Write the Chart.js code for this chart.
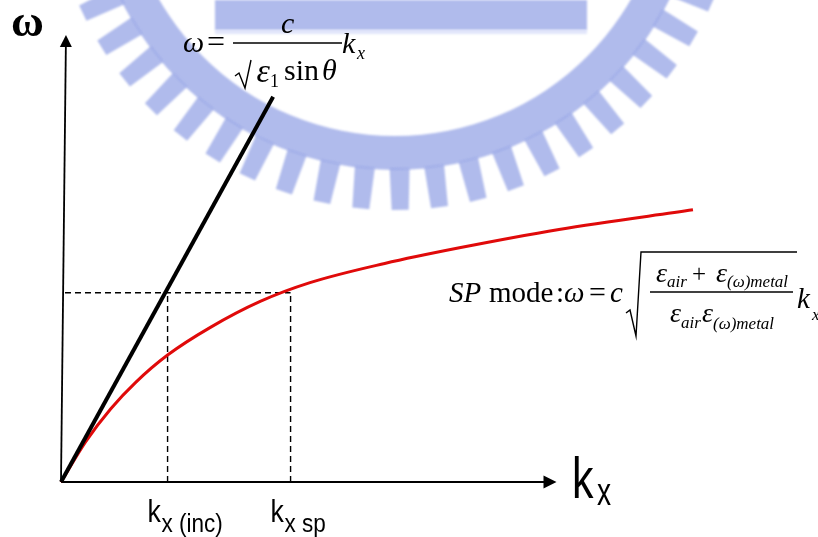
<!DOCTYPE html>
<html>
<head>
<meta charset="utf-8">
<script src="https://cdn.jsdelivr.net/npm/chart.js@4"></script>
<style>
  html, body { margin: 0; padding: 0; background: #fff; }
  canvas { display: block; }
</style>
</head>
<body>
<canvas id="chart" width="818" height="537"></canvas>
<script>
// surface plasmon branch (red) against the light line (black)
const spK = [0, 0.5, 1, 1.5, 2.14, 3, 4, 5, 6.5, 8, 10, 12.69];
const spOmega = [0, 0.91, 1.64, 2.23, 2.84, 3.46, 4.04, 4.46, 4.89, 5.24, 5.65, 6.09];
const lightK = [0, 4.26];
const lightOmega = [0, 8.62];

// where the two curves reach the same frequency
const kInc = 2.14;
const kSp = 4.61;
const omegaMatch = 4.235;

const tickLabels = [
  { at: kInc, main: "k", sub: "x (inc)" },
  { at: kSp, main: "k", sub: "x sp" }
];
const axisEnd = { k: 9.95, omega: 10 };

const toPts = (xs, ys) => xs.map((x, i) => ({ x: x, y: ys[i] }));

const serif = '"Liberation Serif", "Times New Roman", serif';
const sans = '"Liberation Sans", Arial, sans-serif';

function txt(ctx, s, x, y, font) {
  ctx.font = font;
  ctx.fillText(s, x, y);
}

// draws s so that its right edge lands on x
function txtR(ctx, s, x, y, font) {
  ctx.font = font;
  ctx.fillText(s, x - ctx.measureText(s).width, y);
}

function narrow(ctx, s, x, y, font, sx) {
  ctx.save();
  ctx.translate(x, y);
  ctx.scale(sx, 1);
  ctx.font = font;
  ctx.fillText(s, 0, 0);
  ctx.restore();
}

// faded seal in the background
const sealPlugin = {
  id: "seal",
  beforeDraw(chart) {
    const ctx = chart.ctx;
    const cx = 395, cy = -136, rIn = 272, rBand = 306, rTooth = 346;
    ctx.save();
    ctx.filter = "blur(0.8px)";
    ctx.fillStyle = "rgba(150,164,230,0.75)";
    ctx.beginPath();
    ctx.arc(cx, cy, rBand, 0, Math.PI * 2);
    ctx.moveTo(cx + rIn, cy);
    ctx.arc(cx, cy, rIn, 0, Math.PI * 2);
    ctx.fill("evenodd");

    const pitch = 0.114;
    for (let a = Math.PI / 2 - 0.015 - pitch * 12; a <= Math.PI / 2 + pitch * 12; a += pitch) {
      const ux = Math.cos(a), uy = Math.sin(a);
      const px = -uy, py = ux;
      const w0 = 10, w1 = 8.5;
      ctx.beginPath();
      ctx.moveTo(cx + ux * (rBand - 2) + px * w0, cy + uy * (rBand - 2) + py * w0);
      ctx.lineTo(cx + ux * rTooth + px * w1, cy + uy * rTooth + py * w1);
      ctx.lineTo(cx + ux * rTooth - px * w1, cy + uy * rTooth - py * w1);
      ctx.lineTo(cx + ux * (rBand - 2) - px * w0, cy + uy * (rBand - 2) - py * w0);
      ctx.closePath();
      ctx.fill();
    }
    ctx.fillRect(215, 0, 372, 30);
    ctx.fillStyle = "rgba(205,214,246,0.6)";
    ctx.fillRect(215, 30, 372, 4);
    ctx.restore();
  }
};

// arrowed axes from the data origin
const axesPlugin = {
  id: "arrowAxes",
  beforeDatasetsDraw(chart) {
    const ctx = chart.ctx;
    const xs = chart.scales.x, ys = chart.scales.y;
    const ox = xs.getPixelForValue(0), oy = ys.getPixelForValue(0);
    const xt = xs.getPixelForValue(axisEnd.k);
    const yx = xs.getPixelForValue(0.1), yt = ys.getPixelForValue(axisEnd.omega);
    ctx.save();
    ctx.strokeStyle = "#000";
    ctx.fillStyle = "#000";
    ctx.lineWidth = 2;
    ctx.beginPath();
    ctx.moveTo(ox, oy);
    ctx.lineTo(xt - 10, oy);
    ctx.stroke();
    ctx.beginPath();
    ctx.moveTo(xt, oy);
    ctx.lineTo(xt - 13, oy - 6.5);
    ctx.lineTo(xt - 13, oy + 6.5);
    ctx.closePath();
    ctx.fill();

    const dx = yx - ox, dy = yt - oy, len = Math.hypot(dx, dy);
    const ux = dx / len, uy = dy / len;
    ctx.lineWidth = 1.8;
    ctx.beginPath();
    ctx.moveTo(ox, oy);
    ctx.lineTo(yx - ux * 10, yt - uy * 10);
    ctx.stroke();
    const bx = yx - ux * 12, by = yt - uy * 12;
    ctx.beginPath();
    ctx.moveTo(yx, yt);
    ctx.lineTo(bx - uy * 6, by + ux * 6);
    ctx.lineTo(bx + uy * 6, by - ux * 6);
    ctx.closePath();
    ctx.fill();
    ctx.restore();
  }
};

// axis names, tick labels and the two dispersion formulas
const labelPlugin = {
  id: "labels",
  afterDraw(chart) {
    const ctx = chart.ctx;
    const xs = chart.scales.x;
    ctx.save();
    ctx.fillStyle = "#000";
    ctx.strokeStyle = "#000";
    ctx.textBaseline = "alphabetic";

    txt(ctx, "ω", 11, 36, "bold 45px " + serif);
    narrow(ctx, "k", 572, 498, "58px " + sans, 0.74);
    narrow(ctx, "x", 597, 505, "38px " + sans, 0.74);

    tickLabels.forEach(t => {
      const left = xs.getPixelForValue(t.at) - 20;
      narrow(ctx, t.main, left, 522, "31px " + sans, 0.86);
      narrow(ctx, t.sub, left + 14, 532, "25px " + sans, 0.9);
    });

    // light line formula
    const it = "italic 30px " + serif, rm = "30px " + serif;
    txt(ctx, "ω", 183, 52, it);
    txt(ctx, "=", 207, 52, "32px " + serif);
    txt(ctx, "c", 281, 33, it);
    ctx.lineWidth = 1.5;
    ctx.beginPath();
    ctx.moveTo(233, 43);
    ctx.lineTo(342, 43);
    ctx.stroke();
    ctx.lineWidth = 1.4;
    ctx.beginPath();
    ctx.moveTo(235, 76);
    ctx.lineTo(239, 73);
    ctx.lineTo(245, 88);
    ctx.lineTo(251, 60);
    ctx.stroke();
    txtR(ctx, "ε", 270, 82, "italic 34px " + serif);
    txt(ctx, "1", 270, 87, "18px " + serif);
    txt(ctx, "sin", 284, 80, rm);
    txt(ctx, "θ", 322, 80, it);
    txt(ctx, "k", 342, 53, it);
    txt(ctx, "x", 357, 59, "italic 18px " + serif);

    // surface plasmon formula
    const it2 = "italic 29px " + serif, rm2 = "29px " + serif;
    const ie = "italic 28px " + serif, sub = "italic 17px " + serif;
    txt(ctx, "SP", 449, 302, it2);
    txt(ctx, "mode", 489, 302, rm2);
    txt(ctx, ":", 556, 302, rm2);
    txt(ctx, "ω", 564, 302, it2);
    txt(ctx, "=", 589, 302, "30px " + serif);
    txt(ctx, "c", 610, 302, it2);
    ctx.lineWidth = 1.4;
    ctx.beginPath();
    ctx.moveTo(626, 313);
    ctx.lineTo(630, 310);
    ctx.lineTo(636, 336);
    ctx.lineTo(641, 252);
    ctx.lineTo(797, 252);
    ctx.stroke();
    txtR(ctx, "ε", 667, 282, ie);
    txt(ctx, "air", 667, 287, sub);
    txt(ctx, "+", 692, 282, "25px " + serif);
    txtR(ctx, "ε", 727, 282, ie);
    txt(ctx, "(ω)metal", 727, 287, sub);
    ctx.lineWidth = 1.3;
    ctx.beginPath();
    ctx.moveTo(650, 292);
    ctx.lineTo(793, 292);
    ctx.stroke();
    txtR(ctx, "ε", 681, 322, ie);
    txt(ctx, "air", 681, 328, sub);
    txtR(ctx, "ε", 713, 322, ie);
    txt(ctx, "(ω)metal", 713, 329, sub);
    txt(ctx, "k", 797, 308, it2);
    txt(ctx, "x", 812, 320, sub);
    ctx.restore();
  }
};

const guide = {
  showLine: true,
  borderColor: "#000",
  borderWidth: 1.4,
  borderDash: [6, 4],
  pointRadius: 0
};

new Chart(document.getElementById("chart"), {
  type: "scatter",
  data: {
    datasets: [
      {
        data: toPts(lightK, lightOmega),
        showLine: true,
        borderColor: "#000",
        borderWidth: 4,
        pointRadius: 0
      },
      {
        data: toPts(spK, spOmega),
        showLine: true,
        borderColor: "#e00a0a",
        borderWidth: 3,
        cubicInterpolationMode: "monotone",
        pointRadius: 0
      },
      Object.assign({ data: [{ x: 0.08, y: omegaMatch }, { x: kSp, y: omegaMatch }] }, guide),
      Object.assign({ data: [{ x: kInc, y: 0 }, { x: kInc, y: omegaMatch }] }, guide),
      Object.assign({ data: [{ x: kSp, y: 0 }, { x: kSp, y: omegaMatch }] }, guide)
    ]
  },
  options: {
    responsive: false,
    animation: false,
    devicePixelRatio: 1,
    layout: { padding: { left: 61, right: 10, top: 35, bottom: 55 } },
    plugins: {
      legend: { display: false },
      tooltip: { enabled: false }
    },
    scales: {
      x: { type: "linear", min: 0, max: 15, display: false },
      y: { type: "linear", min: 0, max: 10, display: false }
    },
    clip: false
  },
  plugins: [sealPlugin, axesPlugin, labelPlugin]
});
</script>
</body>
</html>
